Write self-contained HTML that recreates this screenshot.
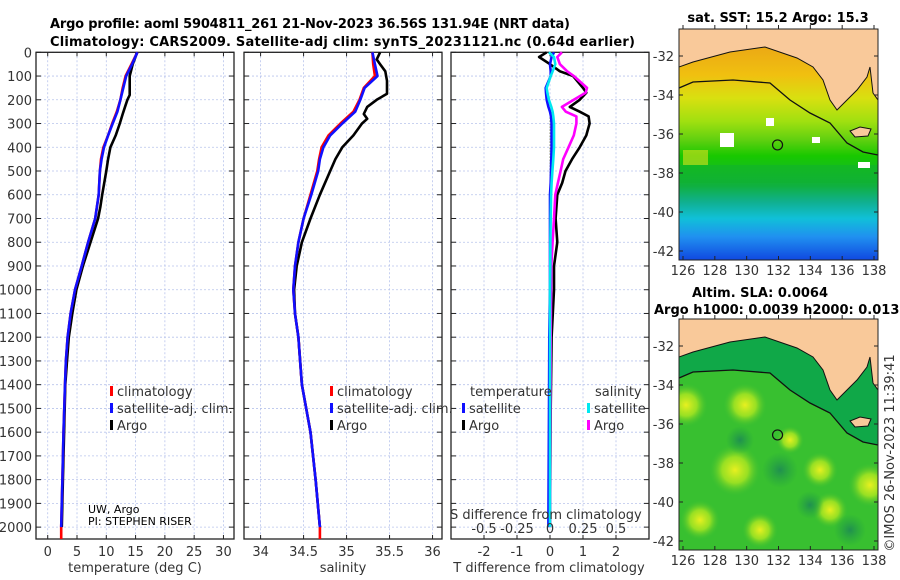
<!DOCTYPE html>
<html><head><meta charset="utf-8"><style>
body{margin:0;background:#fff;}
svg{display:block;font-family:"DejaVu Sans","Liberation Sans",sans-serif;}
.t{font-size:13px;fill:#333;}
.b{font-weight:bold;fill:#000;font-size:13px;}
</style></head><body>
<svg id="s" width="900" height="580" viewBox="0 0 900 580">
<defs>
<linearGradient id="sst" x1="0" y1="0" x2="0" y2="1">
<stop offset="0" stop-color="#e89a18"/><stop offset="0.2" stop-color="#f0c010"/><stop offset="0.3" stop-color="#d8e010"/>
<stop offset="0.4" stop-color="#a0e010"/><stop offset="0.48" stop-color="#60d010"/><stop offset="0.55" stop-color="#18c800"/>
<stop offset="0.68" stop-color="#10b040"/><stop offset="0.75" stop-color="#10b090"/><stop offset="0.82" stop-color="#10c0d8"/>
<stop offset="0.9" stop-color="#2090f0"/><stop offset="1" stop-color="#1048e0"/></linearGradient>
<radialGradient id="yb"><stop offset="0" stop-color="#e8f020"/><stop offset="0.5" stop-color="#b0e820" stop-opacity="0.8"/><stop offset="1" stop-color="#40c030" stop-opacity="0"/></radialGradient>
<radialGradient id="db"><stop offset="0" stop-color="#209050"/><stop offset="1" stop-color="#20a040" stop-opacity="0"/></radialGradient>
<clipPath id="c1"><rect x="679" y="29" width="199" height="231"/></clipPath>
<clipPath id="c2"><rect x="679" y="319" width="199" height="231"/></clipPath>
</defs>
<text class="b" x="50" y="28" textLength="520">Argo profile: aoml 5904811_261 21-Nov-2023 36.56S 131.94E (NRT data)</text>
<text class="b" x="50" y="46" textLength="585">Climatology: CARS2009. Satellite-adj clim: synTS_20231121.nc (0.64d earlier)</text>
<g id="plots"></g>
<g id="maps"></g>
</svg>
<script>
// ---------- data ----------
const tDepth=[0,50,100,150,180,200,230,260,300,350,400,450,500,600,650,700,800,900,1000,1100,1200,1300,1400,1600,1800,2000];
const tArgo=[15.3,14.5,14.0,14.0,14.0,13.6,13.2,12.8,12.3,11.6,10.7,10.3,10.0,9.3,9.0,8.6,7.3,6.0,4.9,4.2,3.6,3.3,3.0,2.8,2.6,2.4];
const cDepth=[0,50,100,150,200,250,300,350,400,450,500,600,700,800,900,1000,1100,1200,1300,1400,1600,1800,2000];
const tClim=[15.3,14.3,13.3,12.8,12.4,11.8,11.0,10.3,9.5,9.1,8.9,8.7,8.1,6.9,5.8,4.65,3.9,3.4,3.1,2.95,2.7,2.5,2.3];
const tSat=[15.3,14.4,13.4,12.9,12.4,11.9,11.1,10.3,9.6,9.2,8.9,8.7,8.1,6.9,5.8,4.65,3.9,3.4,3.1,2.95,2.7,2.5,2.3];
const sClim=[35.3,35.31,35.33,35.2,35.15,35.08,34.93,34.79,34.71,34.68,34.66,34.58,34.5,34.44,34.4,34.38,34.4,34.44,34.46,34.48,34.58,34.64,34.69];
const sSat=[35.3,35.33,35.36,35.21,35.16,35.1,34.95,34.81,34.73,34.69,34.67,34.59,34.5,34.44,34.4,34.38,34.4,34.44,34.46,34.48,34.58,34.64,34.69];
const sDepth=[0,30,50,80,120,175,200,230,260,280,300,350,400,450,500,600,700,800,900,1000,1100,1200,1400,1600,1800,2000];
const sArgo=[35.39,35.35,35.39,35.45,35.47,35.47,35.35,35.24,35.2,35.24,35.18,35.08,34.95,34.87,34.81,34.69,34.58,34.48,34.42,34.39,34.4,34.44,34.48,34.58,34.64,34.69];
const dDepth=[0,20,50,80,100,150,170,200,230,250,270,300,350,400,450,500,550,600,700,800,900,1000,1200,1500,2000];
const dTArgo=[-0.1,-0.33,0,0.3,0.7,1.0,1.1,0.9,0.6,0.9,1.17,1.2,1.1,0.9,0.67,0.47,0.37,0.22,0.17,0.22,0.12,0.12,0.05,0.02,0];
const dSArgo=[0.09,0.055,0.075,0.13,0.18,0.28,0.27,0.18,0.09,0.12,0.2,0.2,0.18,0.14,0.1,0.08,0.06,0.04,0.03,0.02,0.01,0.008,0.005,0.003,0];
const dTSat=[0.12,0.05,0,0.02,0.02,-0.13,-0.12,-0.1,-0.05,0,0.03,0.05,0.05,0.05,0.04,0.03,0.02,0,0,0,0,0,-0.02,-0.03,-0.05];
const dSSat=[-0.008,0.03,0.04,0.02,0.005,-0.025,-0.02,-0.008,0.01,0.02,0.025,0.03,0.03,0.03,0.025,0.018,0.012,0.008,0.005,0.003,0.002,0,0,0,0];
const depthTicks=[0,100,200,300,400,500,600,700,800,900,1000,1100,1200,1300,1400,1500,1600,1700,1800,1900,2000];
const tTicks=[0,5,10,15,20,25,30];
const sTicks=[34,34.5,35,35.5,36];
const sTickLabels=["34","34.5","35","35.5","36"];
const dTicks=[-2,-1,0,1,2];
const sdTickVals=[-0.5,-0.25,0,0.25,0.5];
const sdTickLabels=["-0.5","-0.25","0","0.25","0.5"];
const latTicks=[-32,-34,-36,-38,-40,-42];
const lonTicks=[126,128,130,132,134,136,138];
// ---------- scales ----------
const Y0=52.3,Y1=539,DMAX=2050;
const yD=d=>Y0+(d/DMAX)*(Y1-Y0);
const P1={x0:36,x1:234,lo:-2,hi:31.8};
const P2={x0:244,x1:442,lo:33.807,hi:36.11};
const P3={x0:451,x1:649,lo:-3,hi:3};
const sx=(p,v)=>p.x0+(v-p.lo)/(p.hi-p.lo)*(p.x1-p.x0);
const NS='http://www.w3.org/2000/svg';
const G=document.getElementById('plots');
function mk(tag,at,par){const e=document.createElementNS(NS,tag);for(const k in at)e.setAttribute(k,at[k]);(par||G).appendChild(e);return e;}
function txt(x,y,s,anchor,cls,par){const e=mk('text',{x:x,y:y,'text-anchor':anchor||'start',class:cls||'t'},par);e.textContent=s;return e;}
function frame(p,ticks,name){
  const g=mk('g',{});
  
  
  ticks.forEach(v=>{const x=sx(p,v);mk('line',{x1:x,x2:x,y1:Y0,y2:Y1,stroke:'#b8c4ec','stroke-width':0.8,'stroke-dasharray':'2,2'},g);
    mk('line',{x1:x,x2:x,y1:Y0,y2:Y0+4,stroke:'#222'},g);mk('line',{x1:x,x2:x,y1:Y1,y2:Y1-4,stroke:'#222'},g);});
  depthTicks.forEach(d=>{const y=yD(d);mk('line',{x1:p.x0,x2:p.x1,y1:y,y2:y,stroke:'#b8c4ec','stroke-width':0.8,'stroke-dasharray':'2,2'},g);
    mk('line',{x1:p.x0,x2:p.x0+5,y1:y,y2:y,stroke:'#222'},g);mk('line',{x1:p.x1,x2:p.x1-5,y1:y,y2:y,stroke:'#222'},g);});
  mk('rect',{x:p.x0,y:Y0,width:p.x1-p.x0,height:Y1-Y0,fill:'none',stroke:'#222','stroke-width':1.3},g);
  return g;
}
function line(p,xs,ds,color,name,w){
  const pts=xs.map((v,i)=>sx(p,v).toFixed(1)+','+yD(ds[i]).toFixed(1)).join(' ');
  const e=mk('polyline',{points:pts,fill:'none',stroke:color,'stroke-width':w||2.6,'stroke-linejoin':'round'});
  
  
}
// panel 1
frame(P1,tTicks,'temperature-panel');
depthTicks.forEach(d=>txt(32,yD(d)+5,String(d),'end'));
tTicks.forEach(v=>txt(sx(P1,v),556,String(v),'middle'));
txt(135,572,'temperature (deg C)','middle');
line(P1,tArgo,tDepth,'#000','temp-argo-line');
line(P1,tClim.concat([2.3]),cDepth.concat([2050]),'#f00','temp-climatology-line');
line(P1,tSat,cDepth,'#1010ff','temp-satellite-clim-line');
// panel 2
frame(P2,sTicks,'salinity-panel');
sTicks.forEach((v,i)=>txt(sx(P2,v),556,sTickLabels[i],'middle'));
txt(343,572,'salinity','middle');
line(P2,sArgo,sDepth,'#000','salinity-argo-line');
line(P2,sClim.concat([34.69]),cDepth.concat([2050]),'#f00','salinity-climatology-line');
line(P2,sSat,cDepth,'#1010ff','salinity-satellite-clim-line');
// panel 3
frame(P3,dTicks,'difference-panel');
dTicks.forEach(v=>txt(sx(P3,v),556,String(v),'middle'));
txt(549,572,'T difference from climatology','middle');
mk('line',{x1:sx(P3,0),x2:sx(P3,0),y1:yD(250),y2:yD(900),stroke:'#686830','stroke-width':1,'stroke-dasharray':'1,2'});
line(P3,dTArgo,dDepth,'#000','temp-diff-argo-line');
line(P3,dSArgo.map(v=>v*4),dDepth,'#ff00ff','sal-diff-argo-line');
line(P3,dTSat,dDepth,'#1010ff','temp-diff-satellite-line');
line(P3,dSSat.map(v=>v*4),dDepth,'#00e8f0','sal-diff-satellite-line');
txt(450,519,'S difference from climatology','start');
sdTickVals.forEach((v,i)=>txt(sx(P3,v*4),533,sdTickLabels[i],'middle'));
// legends
function leg(x,y,color,label,name){
  const g=mk('g',{});
  
  
  mk('rect',{x:x,y:y-10,width:3,height:10,fill:color},g);
  txt(x+7,y,label,'start','t',g);
}
leg(110,396,'#f00','climatology','legend-climatology');
leg(110,413,'#1010ff','satellite-adj. clim.','legend-satellite-adj');
leg(110,430,'#000','Argo','legend-argo');
leg(330,396,'#f00','climatology','legend-sal-climatology');
leg(330,413,'#1010ff','satellite-adj. clim.','legend-sal-satellite-adj');
leg(330,430,'#000','Argo','legend-sal-argo');
txt(470,396,'temperature','start');
leg(462,413,'#1010ff','satellite','legend-tdiff-satellite');
leg(462,430,'#000','Argo','legend-tdiff-argo');
txt(595,396,'salinity','start');
leg(587,413,'#00e8f0','satellite','legend-sdiff-satellite');
leg(587,430,'#ff00ff','Argo','legend-sdiff-argo');
const c1=txt(88,513,'UW, Argo','start');c1.setAttribute('style','font-size:11px;fill:#000');
const c2=txt(88,525,'PI: STEPHEN RISER','start');c2.setAttribute('style','font-size:11px;fill:#000');
// ---------- maps ----------
const M=document.getElementById('maps');
const lonX=l=>683+(l-126)*(874-683)/12;
const latY=(l,top)=>top+27+(-32-l)*(251-56)/10;
const coast='M679,29 L679,67 L693,62 L730,52 L765,47 L797,58 L813,67 L823,80 L830,100 L837,110 L847,100 L857,90 L867,77 L870,67 L873,93 L878,100 L878,29 Z';
const island='M850,131 L860,127 L871,129 L868,136 L855,137 Z';
const shelf='M679,88 L693,82 L733,80 L770,83 L790,100 L810,113 L830,123 L847,143 L863,152 L878,155';
function mapFrame(top,name,fillFn){
  const g=mk('g',{},M);
  
  
  const inner=mk('g',{'clip-path':'url(#'+(top<100?'c1':'c2')+')'},g);
  fillFn(inner);
  const o=mk('g',{transform:'translate(0,'+(top-29)+')'},inner);
  mk('path',{d:coast,fill:'#f9c99a',stroke:'#111','stroke-width':1},o);
  mk('path',{d:island,fill:'#f9c99a',stroke:'#111','stroke-width':1},o);
  mk('path',{d:shelf,fill:'none',stroke:'#111','stroke-width':1.3},o);
  mk('circle',{cx:lonX(131.94),cy:latY(-36.56,top),r:5,fill:'none',stroke:'#111','stroke-width':1.2},inner);
  mk('rect',{x:679,y:top,width:199,height:231,fill:'none',stroke:'#222','stroke-width':1},g);
  latTicks.forEach(l=>{const y=latY(l,top);txt(674,y+5,String(l),'end','t',g);mk('line',{x1:679,x2:683,y1:y,y2:y,stroke:'#222'},g);mk('line',{x1:878,x2:874,y1:y,y2:y,stroke:'#222'},g);});
  lonTicks.forEach(l=>{const x=lonX(l);txt(x,top+246,String(l),'middle','t',g);mk('line',{x1:x,x2:x,y1:top,y2:top-4,stroke:'#222'},g);mk('line',{x1:x,x2:x,y1:top+231,y2:top+227,stroke:'#222'},g);});
}
mapFrame(29,'sst-map',g=>{
  mk('rect',{x:679,y:29,width:199,height:231,fill:'url(#sst)'},g);
  mk('rect',{x:679,y:165,width:199,height:18,fill:'#10b030',opacity:0.5},g);
  mk('rect',{x:683,y:150,width:25,height:15,fill:'#d8e020',opacity:0.6},g);
  [[720,133,14,14],[766,118,8,8],[812,137,8,6],[858,162,12,6]].forEach(r=>mk('rect',{x:r[0],y:r[1],width:r[2],height:r[3],fill:'#fff'},g));
});
mapFrame(319,'sla-map',g=>{
  mk('rect',{x:679,y:319,width:199,height:231,fill:'#38c030'},g);
  [[686,405,22],[745,405,22],[735,470,26],[820,470,18],[870,485,22],[760,530,18],[700,520,20],[790,440,14],[830,510,18]].forEach(c=>mk('circle',{cx:c[0],cy:c[1],r:c[2],fill:'url(#yb)'},g));
  [[780,470,18],[810,505,14],[740,440,14],[850,530,16]].forEach(c=>mk('circle',{cx:c[0],cy:c[1],r:c[2],fill:'url(#db)'},g));
  mk('path',{d:'M679,377 L693,372 L733,370 L770,373 L790,390 L810,403 L830,413 L847,433 L863,442 L878,445 L878,319 L679,319 Z',fill:'#10a848'},g);
});
txt(778,22,'sat. SST: 15.2 Argo: 15.3','middle','b');
txt(760,297,'Altim. SLA: 0.0064','middle','b');
txt(654,314,'Argo h1000: 0.0039 h2000: 0.013','start','b');
const im=txt(0,0,'©IMOS 26-Nov-2023 11:39:41','middle');
im.setAttribute('transform','translate(894,453) rotate(-90)');
</script>
</body></html>
